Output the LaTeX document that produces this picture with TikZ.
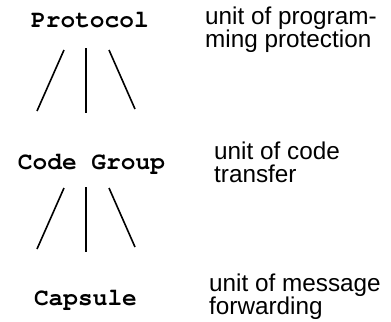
\documentclass[tikz,border=0pt]{standalone}
\usepackage[T1]{fontenc}
\usepackage{fontspec}
\setmainfont{Liberation Sans}
\newcommand\courb{\fontencoding{T1}\fontfamily{pcr}\fontseries{b}\fontshape{n}\fontsize{24.5bp}{26bp}\selectfont}
\tikzset{
  term/.style={font=\courb, inner sep=0pt, anchor=base},
  note/.style={font=\fontsize{24.3bp}{23bp}\selectfont, inner sep=0pt, anchor=base west, align=left},
  link/.style={line width=1.6bp, black}
}
\begin{document}
\begin{tikzpicture}[x=1bp,y=-1bp]
\useasboundingbox (0,0) rectangle (391,322);
\node[term] (proto) at (90,27) {Protocol};
\node[term] (group) at (91.5,169) {Code Group};
\node[term] (caps) at (85.5,305) {Capsule};
\node[note] (n1) at (205,47) {unit of program-\\ming protection};
\node[note] (n2) at (214,182) {unit of code\\transfer};
\node[note] (n3) at (209,314) {unit of message\\forwarding};
% upper fan
\coordinate (a1) at (64,50); \coordinate (a2) at (37,111);
\coordinate (b1) at (86,48); \coordinate (b2) at (86,113);
\coordinate (c1) at (109,50); \coordinate (c2) at (135,109);
\draw[link] (a1) -- (a2);
\draw[link] (b1) -- (b2);
\draw[link] (c1) -- (c2);
% lower fan
\coordinate (d1) at (64,188); \coordinate (d2) at (37,249);
\coordinate (e1) at (86,187); \coordinate (e2) at (86,252);
\coordinate (f1) at (109,188); \coordinate (f2) at (135,247);
\draw[link] (d1) -- (d2);
\draw[link] (e1) -- (e2);
\draw[link] (f1) -- (f2);
\end{tikzpicture}
\end{document}
